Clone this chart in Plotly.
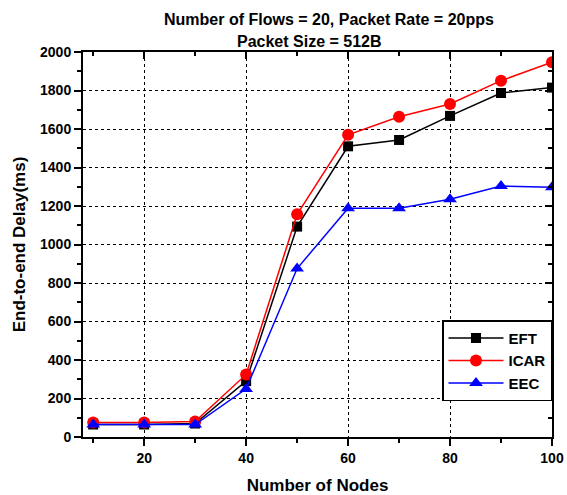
import plotly.graph_objects as go

nodes = [10, 20, 30, 40, 50, 60, 70, 80, 90, 100]
eft = [65, 65, 70, 290, 1093, 1510, 1543, 1668, 1787, 1815]
icar = [75, 75, 80, 325, 1157, 1570, 1664, 1730, 1851, 1947]
eec = [65, 65, 65, 250, 875, 1188, 1188, 1235, 1304, 1298]

title1 = "Number of Flows = 20, Packet Rate = 20pps"
title2 = "Packet Size = 512B"

FONT = "Liberation Sans"

fig = go.Figure()
fig.add_trace(go.Scatter(x=nodes, y=eft, name="EFT", mode="lines+markers",
                         line=dict(color="black", width=1.5),
                         marker=dict(symbol="square", size=10, color="black")))
fig.add_trace(go.Scatter(x=nodes, y=icar, name="ICAR", mode="lines+markers",
                         line=dict(color="#ff0000", width=1.5),
                         marker=dict(symbol="circle", size=12, color="#ff0000")))
fig.add_trace(go.Scatter(x=nodes, y=eec, name="EEC", mode="lines+markers",
                         line=dict(color="#0000ff", width=1.5),
                         marker=dict(symbol="triangle-up", size=12, color="#0000ff")))
# invisible trace to carry the mirrored (inward-tick) top/right axes
fig.add_trace(go.Scatter(x=nodes, y=eft, xaxis="x2", yaxis="y2", mode="lines",
                         opacity=0, showlegend=False, hoverinfo="skip"))

fig.update_layout(
    width=567, height=495,
    margin=dict(l=83, r=15, t=52, b=58),
    paper_bgcolor="white", plot_bgcolor="white",
    font=dict(family=FONT, color="black"),
    showlegend=True,
    legend=dict(x=1.0, y=0.303, xanchor="right", yanchor="top",
                bgcolor="white", bordercolor="black", borderwidth=1.5,
                font=dict(family=FONT, size=15, color="black", weight="bold"),
                itemwidth=55, tracegroupgap=0),
    xaxis=dict(range=[8, 100], tickvals=[20, 40, 60, 80, 100],
               ticks="outside", ticklen=7, tickwidth=2, tickcolor="black",
               minor=dict(tickvals=[10, 30, 50, 70, 90], ticks="outside", ticklen=4,
                          tickwidth=1.5, tickcolor="black", showgrid=False),
               showline=True, linecolor="black", linewidth=2, mirror=False,
               showgrid=True, gridcolor="black", griddash="dot", gridwidth=1,
               zeroline=False, ticklabeloverflow="allow", automargin=False,
               tickfont=dict(family=FONT, size=14, color="black", weight="bold"),
               title=dict(text="Number of Nodes", standoff=16,
                          font=dict(family=FONT, size=17, color="black", weight="bold"))),
    yaxis=dict(range=[0, 2000], dtick=200,
               ticks="outside", ticklen=7, tickwidth=2, tickcolor="black",
               minor=dict(dtick=100, ticks="outside", ticklen=4, tickwidth=1.5,
                          tickcolor="black", showgrid=False),
               showline=True, linecolor="black", linewidth=2, mirror=False,
               showgrid=True, gridcolor="black", griddash="dot", gridwidth=1,
               zeroline=False, automargin=False,
               tickfont=dict(family=FONT, size=14, color="black", weight="bold"),
               title=dict(text="End-to-end Delay(ms)", standoff=10,
                          font=dict(family=FONT, size=17, color="black", weight="bold"))),
    xaxis2=dict(range=[8, 100], overlaying="x", side="top", tickvals=[20, 40, 60, 80, 100],
                ticks="inside", ticklen=7, tickwidth=2, tickcolor="black",
                minor=dict(tickvals=[10, 30, 50, 70, 90], ticks="inside", ticklen=4,
                           tickwidth=1.5, tickcolor="black"),
                showticklabels=False, showline=True, linecolor="black", linewidth=2,
                showgrid=False, zeroline=False, automargin=False),
    yaxis2=dict(range=[0, 2000], overlaying="y", side="right", dtick=200,
                ticks="inside", ticklen=7, tickwidth=2, tickcolor="black",
                minor=dict(dtick=100, ticks="inside", ticklen=4, tickwidth=1.5,
                           tickcolor="black"),
                showticklabels=False, showline=True, linecolor="black", linewidth=2,
                showgrid=False, zeroline=False, automargin=False),
)

tfont = dict(family=FONT, size=16, color="black", weight="bold")
fig.add_annotation(text=title1, xref="paper", yref="paper", x=0.525,
                   y=1 + (52 - 20) / 385, xanchor="center", yanchor="middle",
                   showarrow=False, font=tfont)
fig.add_annotation(text=title2, xref="paper", yref="paper", x=0.484,
                   y=1 + (52 - 41) / 385, xanchor="center", yanchor="middle",
                   showarrow=False, font=tfont)

fig.write_html("out.html")
